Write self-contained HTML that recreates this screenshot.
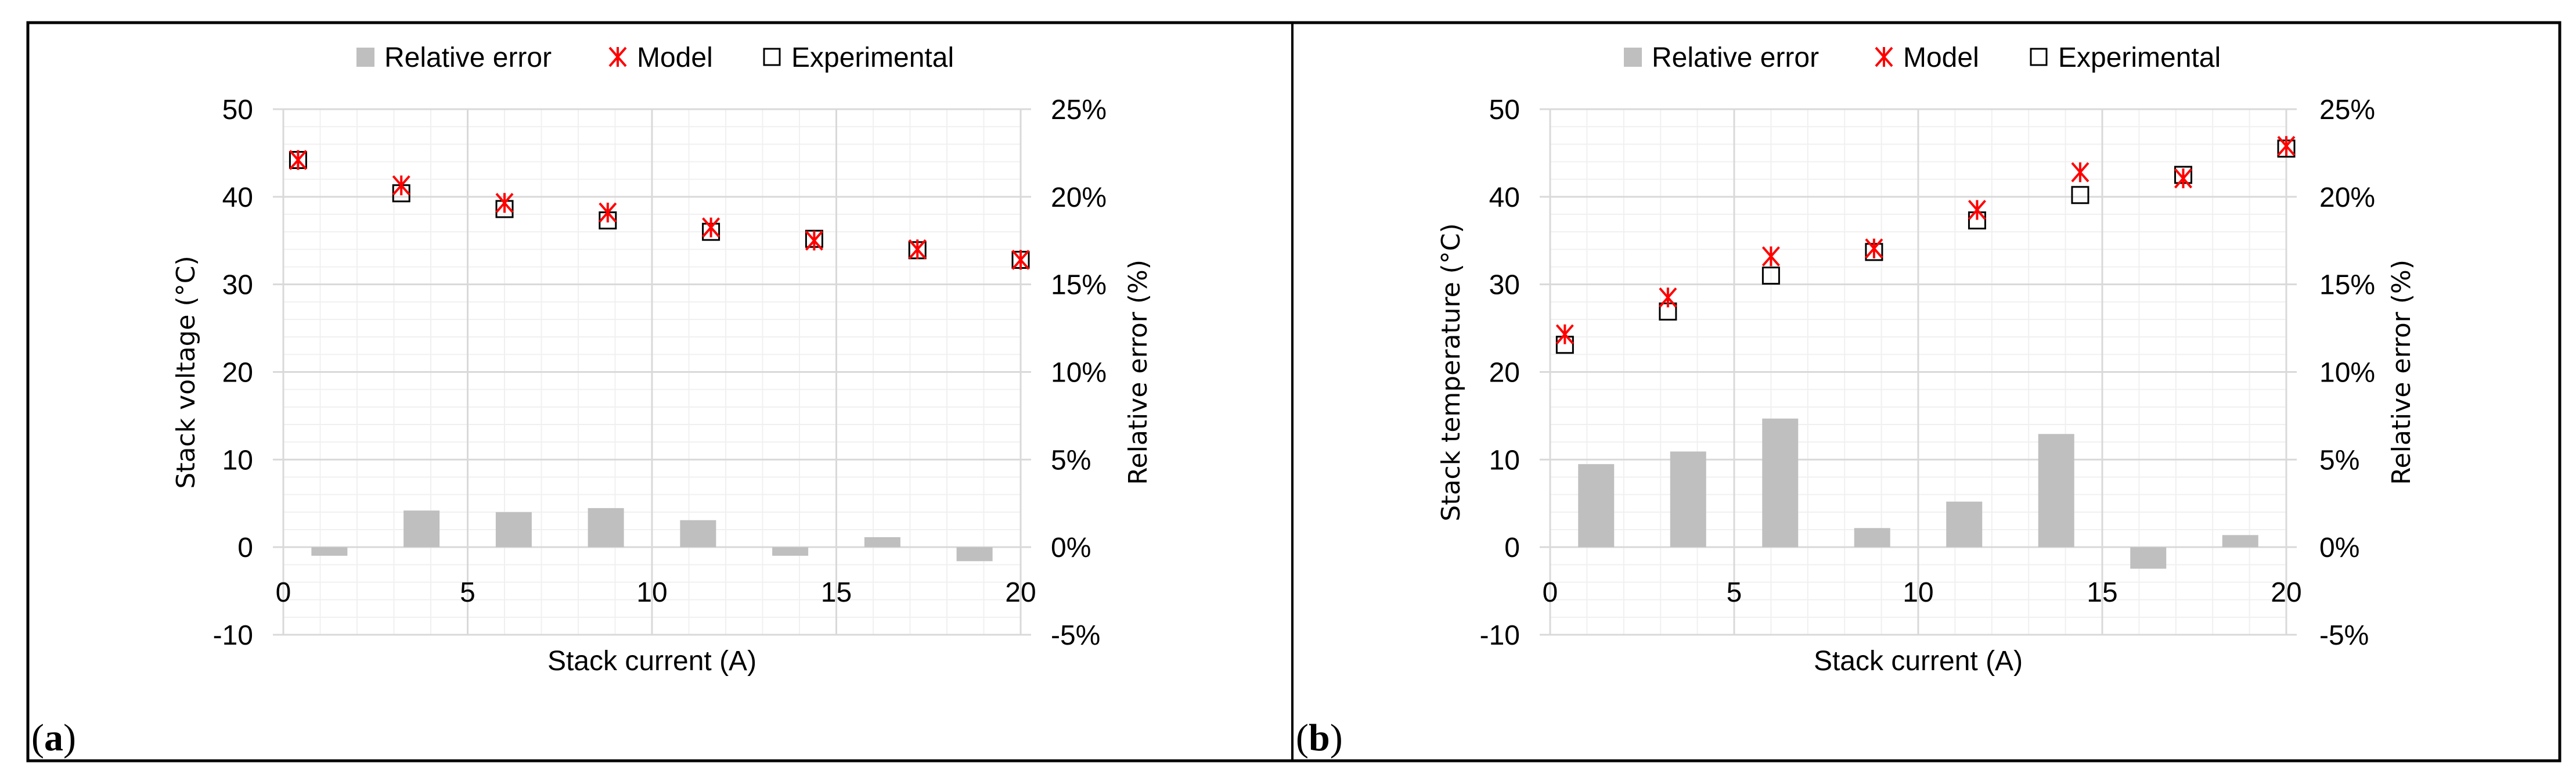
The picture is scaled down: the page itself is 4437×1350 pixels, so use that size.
<!DOCTYPE html>
<html><head><meta charset="utf-8"><style>
html,body{margin:0;padding:0;background:#fff}
svg{display:block}
text{font-family:"Liberation Sans",sans-serif;fill:#000}
.tick{font-size:48px}
.ttl{font-family:"DejaVu Sans","Liberation Sans",sans-serif;font-size:44px}
</style></head><body>
<svg id="chart" width="4437" height="1350" viewBox="0 0 4437 1350" xmlns="http://www.w3.org/2000/svg">
<rect x="0" y="0" width="4437" height="1350" fill="#fff"/>
<rect x="48" y="39" width="4361" height="1271" fill="none" stroke="#000" stroke-width="5"/>
<line x1="2226" y1="39" x2="2226" y2="1310" stroke="#000" stroke-width="4"/>
</svg>
<script>
const xPoints = [0.4, 3.2, 6.0, 8.8, 11.6, 14.4, 17.2, 20.0];
const barX = [1.25, 3.75, 6.25, 8.75, 11.25, 13.75, 16.25, 18.75];
const modelA = [44.2, 41.3, 39.3, 38.2, 36.5, 35.0, 34.0, 32.8];
const expA = [44.2, 40.4, 38.6, 37.3, 36.0, 35.2, 33.9, 32.8];
const errA = [-0.49, 2.09, 2.0, 2.23, 1.54, -0.49, 0.57, -0.8];
const modelB = [24.3, 28.5, 33.2, 34.1, 38.5, 42.8, 42.1, 45.8];
const expB = [23.1, 26.9, 31.0, 33.7, 37.3, 40.2, 42.5, 45.5];
const errB = [4.74, 5.46, 7.34, 1.09, 2.6, 6.46, -1.23, 0.69];
const yTicks = [-10, 0, 10, 20, 30, 40, 50];
const xTicks = [0, 5, 10, 15, 20];
const rTicks = ["-5%", "0%", "5%", "10%", "15%", "20%", "25%"];

const NS = "http://www.w3.org/2000/svg";
const svg = document.getElementById("chart");
function mk(tag, attrs, parent) {
  const e = document.createElementNS(NS, tag);
  for (const k in attrs) e.setAttribute(k, attrs[k]);
  (parent || svg).appendChild(e);
  return e;
}
function starPath(cx, cy) {
  return `M${cx-14},${cy-16}L${cx+14},${cy+16}M${cx+14},${cy-16}L${cx-14},${cy+16}M${cx},${cy-17}L${cx},${cy+17}`;
}

function panel(cfg) {
  const g = mk("g", {});
  
  
  const x0 = cfg.x0, x1 = cfg.x1, yTop = 188, yBot = 1093;
  const sx = v => x0 + (v / 20) * (x1 - x0);
  const sy = v => yBot - ((v + 10) / 60) * (yBot - yTop);
  const sr = v => yBot - ((v + 5) / 30) * (yBot - yTop);
  for (let v = -10; v <= 50; v += 2) {
    if (v % 10 === 0) continue;
    const l = mk("line", {x1: x0, x2: x1, y1: sy(v), y2: sy(v), stroke: "#f0f0f0", "stroke-width": 2}, g);
    
    
  }
  for (let v = 1; v < 20; v++) {
    if (v % 5 === 0) continue;
    const l = mk("line", {x1: sx(v), x2: sx(v), y1: yTop, y2: yBot, stroke: "#f0f0f0", "stroke-width": 2}, g);
    
    
  }
  yTicks.forEach((v, i) => {
    const l = mk("line", {x1: x0 - 18, x2: x1 + 18, y1: sy(v), y2: sy(v), stroke: "#d9d9d9", "stroke-width": 3}, g);
    
    
    const t = mk("text", {x: cfg.lx, y: sy(v) + 17, "text-anchor": "end", class: "tick"}, g);
    t.textContent = v;
    
    
    const r = mk("text", {x: cfg.rx, y: sr(-5 + 5 * i) + 17, "text-anchor": "start", class: "tick"}, g);
    r.textContent = rTicks[i];
    
    
  });
  xTicks.forEach(v => {
    const l = mk("line", {x1: sx(v), x2: sx(v), y1: yTop, y2: yBot, stroke: "#d9d9d9", "stroke-width": 3}, g);
    
    
    const t = mk("text", {x: sx(v), y: 1036, "text-anchor": "middle", class: "tick"}, g);
    t.textContent = v;
    
    
  });
  cfg.err.forEach((v, i) => {
    const y = Math.min(sr(v), sr(0)), h = Math.abs(sr(v) - sr(0));
    const b = mk("rect", {x: sx(barX[i]) - 31, y: y, width: 62, height: h, fill: "#bfbfbf"}, g);
    
    
  });
  cfg.exp.forEach((v, i) => {
    const s = mk("rect", {x: sx(xPoints[i]) - 14, y: sy(v) - 14, width: 28, height: 28, fill: "none", stroke: "#000", "stroke-width": 3}, g);
    
    
  });
  cfg.model.forEach((v, i) => {
    const p = mk("path", {d: starPath(sx(xPoints[i]), sy(v)), stroke: "#ff0000", "stroke-width": 4, fill: "none"}, g);
    
    
  });
  const lt = mk("text", {x: cfg.ltx, y: 641, "text-anchor": "middle", class: "ttl", transform: `rotate(-90 ${cfg.ltx} 641)`, dy: 15}, g);
  lt.textContent = cfg.ytitle;
  
  
  const rt = mk("text", {x: cfg.rtx, y: 641, "text-anchor": "middle", class: "ttl", transform: `rotate(-90 ${cfg.rtx} 641)`, dy: 15}, g);
  rt.textContent = "Relative error (%)";
  
  
  const xt = mk("text", {x: (x0 + x1) / 2, y: 1154, "text-anchor": "middle", style: "font-size:48px"}, g);
  xt.textContent = "Stack current (A)";
  
  
  const L = cfg.leg;
  const lb = mk("rect", {x: L[0], y: 82, width: 31, height: 33, fill: "#bfbfbf"}, g);
  
  
  const t1 = mk("text", {x: L[0] + 48, y: 115, style: "font-size:48px"}, g);
  t1.textContent = "Relative error";
  
  
  const ls = mk("path", {d: starPath(L[1], 98), stroke: "#ff0000", "stroke-width": 4, fill: "none"}, g);
  
  
  const t2 = mk("text", {x: L[1] + 33, y: 115, style: "font-size:48px"}, g);
  t2.textContent = "Model";
  
  
  const le = mk("rect", {x: L[2], y: 84, width: 27, height: 28, fill: "none", stroke: "#000", "stroke-width": 3}, g);
  
  
  const t3 = mk("text", {x: L[2] + 47, y: 115, style: "font-size:48px"}, g);
  t3.textContent = "Experimental";
  
  
  const pl = mk("text", {x: cfg.px, y: 1292, style: "font-family:'Liberation Serif',serif;font-size:66px"}, g);
  pl.innerHTML = '(<tspan font-weight="bold">' + cfg.letter + '</tspan>)';
  
  
}

panel({name: "panel-a", x0: 488, x1: 1758, lx: 436, rx: 1810, ltx: 320, rtx: 1960, ytitle: "Stack voltage (°C)",
  model: modelA, exp: expA, err: errA, leg: [614, 1064, 1316], px: 54, letter: "a"});
panel({name: "panel-b", x0: 2670, x1: 3938, lx: 2618, rx: 3995, ltx: 2499, rtx: 4136, ytitle: "Stack temperature (°C)",
  model: modelB, exp: expB, err: errB, leg: [2797, 3245, 3498], px: 2232, letter: "b"});
</script>
</body></html>
